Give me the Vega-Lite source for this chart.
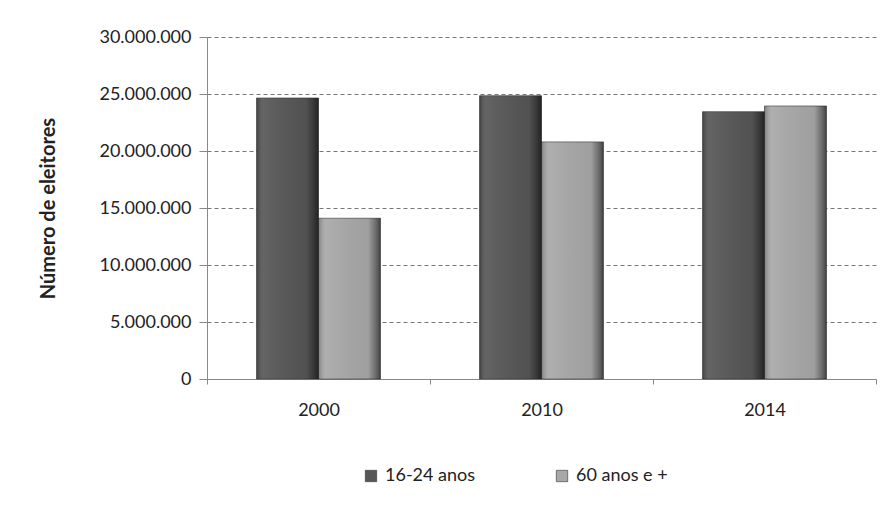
{
  "$schema": "https://vega.github.io/schema/vega-lite/v6.json",
  "width": 669,
  "height": 342,
  "autosize": {"type": "none"},
  "padding": {"left": 207, "top": 37, "right": 17, "bottom": 127},
  "background": "white",
  "config": {
    "locale": {"number": {"decimal": ",", "thousands": ".", "grouping": [3], "currency": ["R$", ""]}},
    "view": {"stroke": null},
    "font": "Lato"
  },
  "data": {
    "values": [
      {"ano": "2000", "grupo": "16-24 anos", "valor": 24650000},
      {"ano": "2000", "grupo": "60 anos e +", "valor": 14100000},
      {"ano": "2010", "grupo": "16-24 anos", "valor": 24850000},
      {"ano": "2010", "grupo": "60 anos e +", "valor": 20800000},
      {"ano": "2014", "grupo": "16-24 anos", "valor": 23450000},
      {"ano": "2014", "grupo": "60 anos e +", "valor": 23950000}
    ]
  },
  "encoding": {
    "x": {
      "field": "ano", "type": "nominal",
      "scale": {"paddingInner": 0, "paddingOuter": 0},
      "axis": {
        "title": null, "labelAngle": 0, "labelFontSize": 18, "labelColor": "#222",
        "labelPadding": 17, "domainColor": "#888", "tickColor": "#888", "tickSize": 5,
        "tickBand": "extent", "grid": false
      }
    },
    "xOffset": {"field": "grupo", "type": "nominal", "scale": {"paddingInner": 0, "paddingOuter": 0.8}},
    "y": {
      "field": "valor", "type": "quantitative",
      "scale": {"domain": [0, 30000000]},
      "axis": {
        "title": "Número de eleitores", "titleFontSize": 20, "titleFontWeight": "bold", "titleColor": "#222",
        "titlePadding": 40, "format": ",d", "labelFontSize": 18, "labelColor": "#222", "labelPadding": 8,
        "values": [0, 5000000, 10000000, 15000000, 20000000, 25000000, 30000000],
        "grid": true, "gridDash": [4, 3], "gridColor": "#777", "gridWidth": 1,
        "domainColor": "#888", "tickColor": "#888", "tickSize": 8
      }
    }
  },
  "layer": [
    {
      "mark": {"type": "bar", "stroke": "#333", "strokeWidth": 0.6},
      "encoding": {
        "color": {
          "field": "grupo", "type": "nominal",
          "scale": {"domain": ["16-24 anos", "60 anos e +"], "range": ["#565656", "#a8a8a8"]},
          "legend": {
            "title": null, "orient": "none", "legendX": 155, "legendY": 430, "direction": "horizontal",
            "symbolType": "square", "symbolSize": 130, "symbolStrokeColor": "#333", "symbolStrokeWidth": 0.6,
            "labelFontSize": 18, "labelColor": "#222", "columnPadding": 77, "labelOffset": 5
          }
        }
      }
    },
    {
      "mark": {
        "type": "bar",
        "fill": {"gradient": "linear", "x1": 0, "y1": 0, "x2": 1, "y2": 0,
          "stops": [
            {"offset": 0, "color": "rgba(0,0,0,0.25)"},
            {"offset": 0.12, "color": "rgba(255,255,255,0.08)"},
            {"offset": 0.8, "color": "rgba(0,0,0,0.05)"},
            {"offset": 0.92, "color": "rgba(0,0,0,0.35)"},
            {"offset": 1, "color": "rgba(0,0,0,0.6)"}
          ]}
      },
      "encoding": {}
    }
  ]
}
